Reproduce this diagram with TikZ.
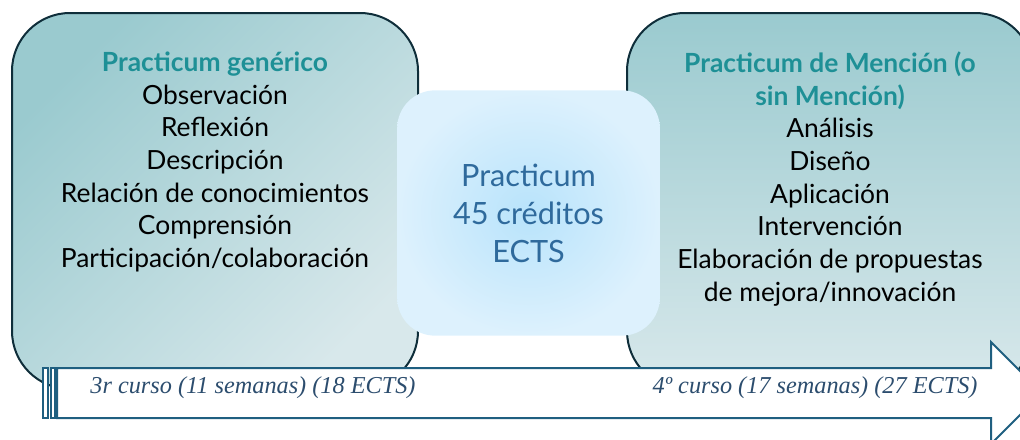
\documentclass[tikz,border=0pt]{standalone}
\usepackage{fontspec}
\usepackage{tikz}
\setmainfont{Lato}
\newfontfamily\arrowfont{Liberation Serif}
\definecolor{boxline}{HTML}{0F2E3A}
\definecolor{tealdark}{HTML}{9ACACF}
\definecolor{teallight}{HTML}{D8E8EB}
\definecolor{headteal}{HTML}{1E9096}
\definecolor{skyin}{HTML}{B8E3FB}
\definecolor{skyout}{HTML}{DDF1FD}
\definecolor{skytext}{HTML}{2F6A9C}
\definecolor{arrowline}{HTML}{1F5F80}
\definecolor{arrowtext}{HTML}{2C4D6E}
\tikzset{
  phasebox/.style={draw=boxline,line width=1.5pt,rounded corners=43.5pt,
    minimum width=304.5pt,minimum height=282pt,inner sep=0pt},
  phasetext/.style={align=center,font=\fontsize{19.8}{24.5}\selectfont,text=black},
  coursetext/.style={font=\arrowfont\itshape\fontsize{18.2}{22}\selectfont,text=arrowtext}
}
\begin{document}
\begin{tikzpicture}[x=0.75pt,y=-0.75pt]
\useasboundingbox (0,0) rectangle (1020,439);
\clip (0,0) rectangle (1020,439);
% Practicum boxes
\node[phasebox,top color=tealdark,bottom color=teallight,shading angle=45] (Generico) at (215,201) {};
\node[phasebox,top color=tealdark,bottom color=teallight] (Mencion) at (830,201) {};
\node[phasetext] (GenericoText) at (215,162) {\textbf{\color{headteal}Practicum genérico}\\Observación\\Reflexión\\Descripción\\Relación de conocimientos\\Comprensión\\Participación/colaboración};
\node[phasetext] (MencionText) at (830,179) {\textbf{\color{headteal}Practicum de Mención (o}\\\textbf{\color{headteal}sin Mención)}\\Análisis\\Diseño\\Aplicación\\Intervención\\Elaboración de propuestas\\de mejora/innovación};
\node[rounded corners=28.5pt,inner color=skyin,outer color=skyout,minimum width=197pt,minimum height=184pt,
  align=center,text=skytext,font=\fontsize{23}{28.5}\selectfont] (Total) at (528.5,213) {Practicum\\45 créditos\\ECTS};
% striped arrow
\draw[arrowline,line width=1.5pt,fill=white] (57,368) -- (991,368) -- (991,342) -- (1042,393) -- (991,444) -- (991,418) -- (57,418) -- cycle;
\draw[arrowline,line width=1.5pt,fill=white] (43,368) rectangle (48,418);
\draw[arrowline,line width=1.5pt,fill=white] (50.5,368) rectangle (55,418);
\node[coursetext] (Tercero) at (253,388) {3r curso (11 semanas) (18 ECTS)};
\node[coursetext] (Cuarto) at (815,388) {4º curso (17 semanas) (27 ECTS)};
\end{tikzpicture}
\end{document}
